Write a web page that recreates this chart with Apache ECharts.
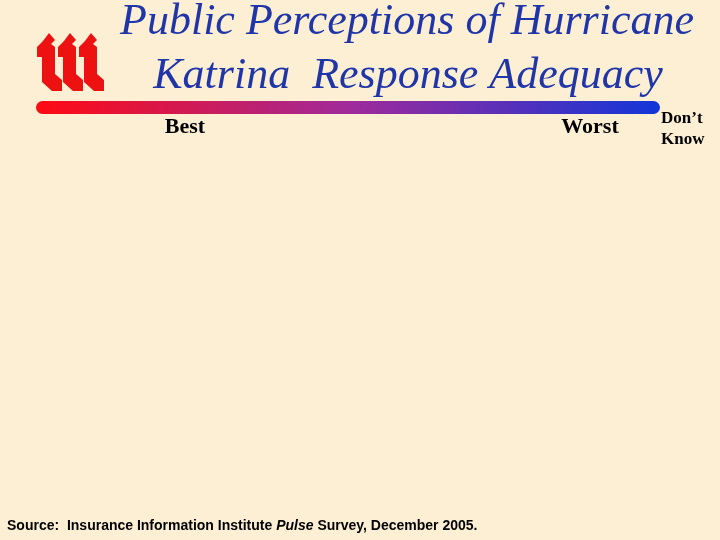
<!DOCTYPE html>
<html>
<head>
<meta charset="utf-8">
<script src="https://cdn.jsdelivr.net/npm/echarts@6/dist/echarts.min.js"></script>
<style>html,body{margin:0;padding:0;background:#FCEFD4;}#c{width:720px;height:540px;}</style>
</head>
<body>
<div id="c"></div>
<script>
// Scale labels shown under the gradient bar (the survey chart has no visible bars)
var titleLines = ['Public Perceptions of Hurricane', 'Katrina  Response Adequacy'];
var scaleLabels = ['Best', 'Worst'];
var extraLabel = "Don\u2019t\nKnow";
var sourceParts = ['Source:  Insurance Information Institute ', 'Pulse', ' Survey, December 2005.'];

var chart = echarts.init(document.getElementById('c'), null, {renderer: 'canvas'});

function logoLetter(x0) {
  return {
    type: 'polygon',
    shape: {points: [
      [x0 + 12, 33], [x0 + 18, 40], [x0 + 14, 44], [x0 + 18, 47],
      [x0 + 18, 74], [x0 + 25, 80], [x0 + 25, 91], [x0 + 15, 91],
      [x0 + 5, 82], [x0 + 5, 57], [x0 + 0, 57], [x0 + 0, 47], [x0 + 6, 41]
    ]},
    style: {fill: '#EE1111'}
  };
}

var option = {
  backgroundColor: '#FCEFD4',
  animation: false,
  title: [
    {text: titleLines[0], left: 402, top: -5, textAlign: 'center',
     textStyle: {fontFamily: 'Liberation Serif', fontStyle: 'italic', fontWeight: 'normal', fontSize: 44, color: '#1F35A8'}},
    {text: titleLines[1], left: 403, top: 49, textAlign: 'center',
     textStyle: {fontFamily: 'Liberation Serif', fontStyle: 'italic', fontWeight: 'normal', fontSize: 44, color: '#1F35A8'}}
  ],
  graphic: [
    logoLetter(37), logoLetter(58), logoLetter(79),
    {
      type: 'rect',
      shape: {x: 36, y: 101, width: 624, height: 13, r: 6.5},
      style: {fill: new echarts.graphic.LinearGradient(0, 0, 1, 0, [
        {offset: 0, color: '#FF0A12'},
        {offset: 0.5, color: '#A02A9A'},
        {offset: 1, color: '#1236D8'}
      ])}
    },
    {type: 'text', x: 185, y: 116, style: {text: scaleLabels[0], textAlign: 'center', fontFamily: 'Liberation Serif', fontWeight: 'bold', fontSize: 22, fill: '#000'}},
    {type: 'text', x: 590, y: 116, style: {text: scaleLabels[1], textAlign: 'center', fontFamily: 'Liberation Serif', fontWeight: 'bold', fontSize: 22, fill: '#000'}},
    {type: 'text', x: 661, y: 108, style: {text: extraLabel, textAlign: 'left', fontFamily: 'Liberation Serif', fontWeight: 'bold', fontSize: 17, lineHeight: 21, fill: '#000'}},
    {type: 'text', x: 7, y: 519, style: {
      text: '{a|' + sourceParts[0] + '}{b|' + sourceParts[1] + '}{a|' + sourceParts[2] + '}',
      rich: {
        a: {fontFamily: 'Liberation Sans', fontWeight: 'bold', fontSize: 14, color: '#000'},
        b: {fontFamily: 'Liberation Sans', fontWeight: 'bold', fontStyle: 'italic', fontSize: 14, color: '#000'}
      }
    }}
  ]
};
chart.setOption(option);
</script>
</body>
</html>
